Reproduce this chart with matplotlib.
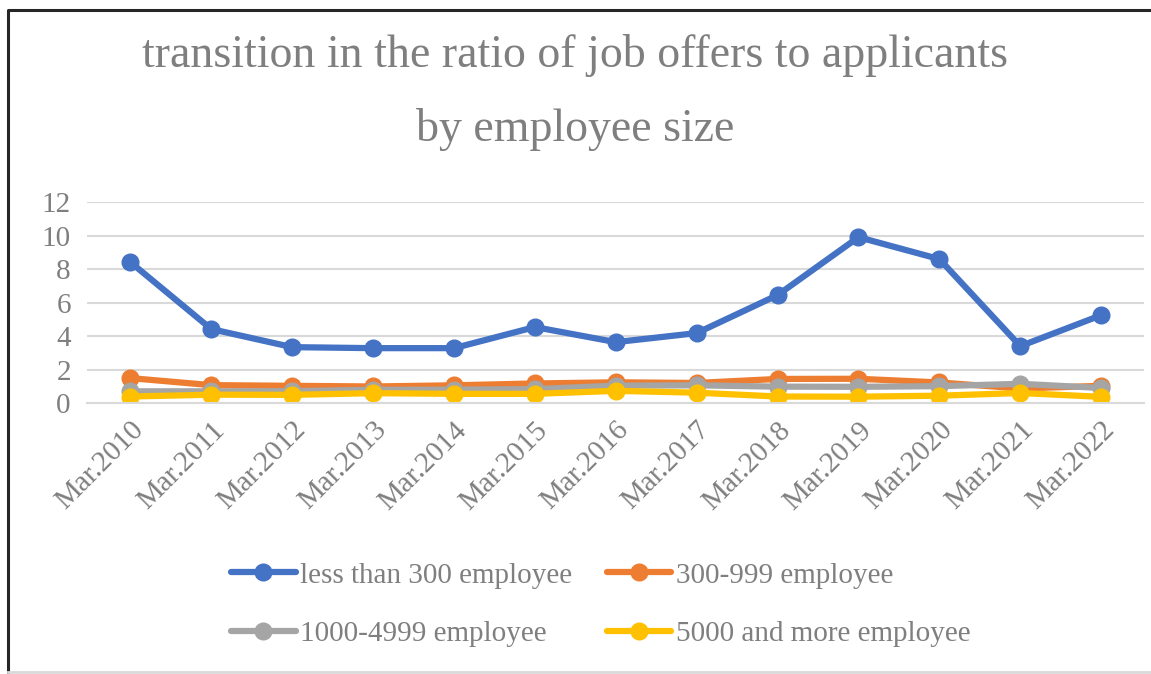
import numpy as np
import matplotlib.pyplot as plt

categories = ["Mar.2010", "Mar.2011", "Mar.2012", "Mar.2013", "Mar.2014", "Mar.2015", "Mar.2016",
              "Mar.2017", "Mar.2018", "Mar.2019", "Mar.2020", "Mar.2021", "Mar.2022"]
less_300 = [8.42, 4.42, 3.34, 3.28, 3.28, 4.54, 3.64, 4.18, 6.45, 9.91, 8.60, 3.40, 5.25]
emp_300_999 = [1.49, 1.07, 1.03, 0.99, 1.06, 1.17, 1.24, 1.20, 1.44, 1.45, 1.23, 0.87, 1.03]
emp_1000_4999 = [0.70, 0.70, 0.71, 0.79, 0.80, 0.83, 1.04, 1.06, 0.98, 0.97, 1.01, 1.15, 0.90]
emp_5000_more = [0.39, 0.50, 0.49, 0.59, 0.55, 0.55, 0.73, 0.62, 0.39, 0.38, 0.44, 0.60, 0.37]
yticks = [0, 2, 4, 6, 8, 10, 12]

series = [
    ("less than 300 employee", less_300, "#4472C4"),
    ("300-999 employee", emp_300_999, "#ED7D31"),
    ("1000-4999 employee", emp_1000_4999, "#A5A5A5"),
    ("5000 and more employee", emp_5000_more, "#FFC000"),
]

plt.rcParams['font.family'] = ['Liberation Serif', 'DejaVu Serif']
text_color = "#7f7f7f"

fig = plt.figure(figsize=(11.51, 6.74), dpi=100)
ax = fig.add_axes([0.076, 0.402, 0.918, 0.298])

x = np.arange(len(categories))
handles = []
for label, vals, color in series:
    h, = ax.plot(x, vals, color=color, linewidth=4.5, marker='o', markersize=12,
                 label=label, solid_capstyle='round')
    handles.append(h)

ax.set_xlim(-0.53, len(categories) - 0.47)
ax.set_ylim(0, 12)
ax.set_yticks(yticks)
ax.yaxis.grid(True, color="#d9d9d9", linewidth=1.5)
ax.set_axisbelow(True)
for s in ["top", "right", "left"]:
    ax.spines[s].set_visible(False)
ax.spines["bottom"].set_color("#d9d9d9")
ax.spines["bottom"].set_linewidth(1.5)
ax.tick_params(axis='both', length=0, labelcolor=text_color, labelsize=21)
ax.tick_params(axis='y', pad=12)
ax.set_xticks(x)
ax.set_xticklabels(categories, rotation=45, ha='right', rotation_mode='anchor', fontsize=21)
ax.tick_params(axis='x', pad=10)

fig.text(0.5, 0.917, "transition in the ratio of job offers to applicants",
         ha='center', va='center', fontsize=33, color=text_color)
fig.text(0.5, 0.808, "by employee size", ha='center', va='center', fontsize=33, color=text_color)

# matplotlib fills legend columns first, so reorder to get row-wise order
order = [0, 2, 1, 3]
fig.legend([handles[i] for i in order], [series[i][0] for i in order],
           loc='center', bbox_to_anchor=(0.522, 0.103), ncol=2, frameon=False,
           fontsize=21, labelcolor=text_color, handlelength=2.2, columnspacing=1.2,
           handletextpad=0.15, labelspacing=1.1)

# chart border (right edge is off the picture)
fig.add_artist(plt.Line2D([0.007, 0.007, 1.0], [0.003, 0.985, 0.985], transform=fig.transFigure,
                          color="#262626", linewidth=2.2))
fig.add_artist(plt.Line2D([0.007, 1.0], [0.003, 0.003], transform=fig.transFigure,
                          color="#d9d9d9", linewidth=2))

fig.savefig("out.png", dpi=100)
